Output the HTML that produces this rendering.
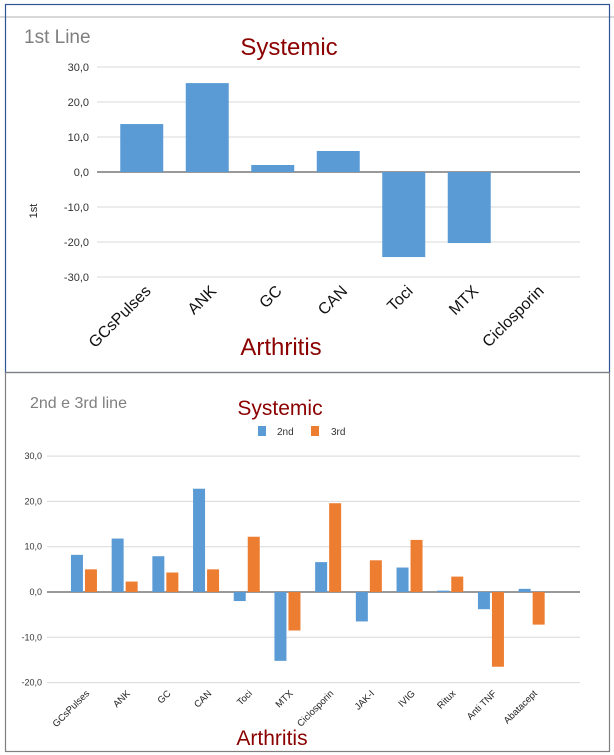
<!DOCTYPE html>
<html><head><meta charset="utf-8"><style>
body{margin:0;background:#fff;width:614px;height:755px;overflow:hidden;font-family:"Liberation Sans",sans-serif}
svg{position:absolute;left:0;top:0}
</style></head><body>
<svg width="614" height="755">
<line x1="0" y1="17" x2="614" y2="17" stroke="#d8d8d8" stroke-width="2"/>
<rect x="5.5" y="4.5" width="604" height="368" fill="none" stroke="#2f5597" stroke-width="1.2"/>
<rect x="5.5" y="372.5" width="604" height="379" fill="none" stroke="#7f7f7f" stroke-width="1.2"/>
<text x="24" y="43" font-size="19" fill="#7f7f7f">1st Line</text>
<text x="289" y="55" font-size="24" fill="#8b0000" text-anchor="middle">Systemic</text>
<text x="281" y="355" font-size="24" fill="#8b0000" text-anchor="middle">Arthritis</text>
<text transform="translate(37,211) rotate(-90)" font-size="11" fill="#222" text-anchor="middle">1st</text>
<g id="top"></g>
<text x="30" y="408" font-size="16" fill="#7f7f7f">2nd e 3rd line</text>
<text x="280" y="415" font-size="21" fill="#8b0000" text-anchor="middle">Systemic</text>
<g>
<rect x="258" y="426" width="8" height="10" fill="#5b9bd5"/>
<text x="277" y="435" font-size="10" fill="#333">2nd</text>
<rect x="311" y="426" width="8" height="10" fill="#ed7d31"/>
<text x="331" y="435" font-size="10" fill="#333">3rd</text>
</g>
<g id="bot"></g>
<text x="272" y="745" font-size="21" fill="#8b0000" text-anchor="middle">Arthritis</text>
</svg>
<script>
const topCats=["GCsPulses","ANK","GC","CAN","Toci","MTX","Ciclosporin"];
const topVals=[13.7,25.4,2,6,-24.3,-20.3,0];
const topTicks=[30,20,10,0,-10,-20,-30];
const botCats=["GCsPulses","ANK","GC","CAN","Toci","MTX","Ciclosporin","JAK-I","IVIG","Ritux","Anti TNF","Abatacept"];
const vals2nd=[8.2,11.8,7.9,22.8,-2,-15.2,6.6,-6.5,5.4,0.3,-3.8,0.7];
const vals3rd=[5,2.3,4.3,5,12.2,-8.5,19.6,7,11.5,3.4,-16.5,-7.2];
const botTicks=[30,20,10,0,-10,-20];
const NS="http://www.w3.org/2000/svg";
function mk(p,t,a){const e=document.createElementNS(NS,t);for(const k in a)e.setAttribute(k,a[k]);p.appendChild(e);return e;}
function fmt(v){return v.toFixed(1).replace('.',',');}
(function(){
const g=document.getElementById('top');
const y=v=>172-v*3.5, x0=109, cw=65.5;
topTicks.forEach(t=>{
 const l=mk(g,'line',{x1:97,x2:580,y1:y(t),y2:y(t),stroke:t===0?'#333':'#d9d9d9','stroke-width':1});
 
 
 const tx=mk(g,'text',{x:89,y:y(t)+4,'font-size':11,'text-anchor':'end',fill:'#333'});tx.textContent=fmt(t);
 
 
});
topCats.forEach((c,i)=>{
 const cx=x0+cw*(i+0.5), v=topVals[i];
 const r=mk(g,'rect',{x:cx-21.5,y:Math.min(y(v),y(0)),width:43,height:Math.abs(y(v)-y(0)),fill:'#5b9bd5'});
 
 
 const t=mk(g,'text',{transform:`translate(${cx+10},${292}) rotate(-45)`,'font-size':16,'text-anchor':'end',fill:'#111'});t.textContent=c;
 
 
});
})();
(function(){
const g=document.getElementById('bot');
const y=v=>592-v*4.53, x0=63.6, cw=40.7;
botTicks.forEach(t=>{
 const l=mk(g,'line',{x1:47,x2:580,y1:y(t),y2:y(t),stroke:t===0?'#333':'#d9d9d9','stroke-width':1});
 
 
 const tx=mk(g,'text',{x:42,y:y(t)+3,'font-size':9,'text-anchor':'end',fill:'#333'});tx.textContent=fmt(t);
 
 
});
botCats.forEach((c,i)=>{
 const cx=x0+cw*(i+0.5);
 [[vals2nd[i],'#5b9bd5',cx-13,'2nd'],[vals3rd[i],'#ed7d31',cx+1,'3rd']].forEach(([v,col,bx,s])=>{
  const r=mk(g,'rect',{x:bx,y:Math.min(y(v),y(0)),width:12,height:Math.max(1,Math.abs(y(v)-y(0))),fill:col});
  
  
 });
 const t=mk(g,'text',{transform:`translate(${cx+6},${694}) rotate(-45)`,'font-size':9.5,'text-anchor':'end',fill:'#222'});t.textContent=c;
 
 
});
})();
</script>
</body></html>
